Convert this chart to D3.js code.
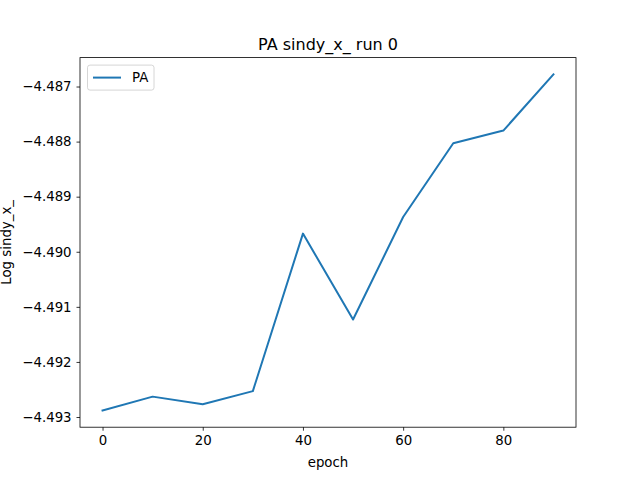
<!DOCTYPE html>
<html>
<head>
<meta charset="utf-8">
<script src="https://cdn.jsdelivr.net/npm/d3@7"></script>
<style>
  body { margin: 0; background: #fff; }
  svg { display: block; font-family: "DejaVu Sans", sans-serif; }
</style>
</head>
<body>
<svg id="chart" width="640" height="480"></svg>
<script>
// data
const epochs = [0, 10, 20, 30, 40, 50, 60, 70, 80, 90];
const paValues = [-4.49288, -4.49263, -4.49277, -4.49253, -4.48967, -4.49123, -4.48937, -4.48803, -4.48780, -4.48678];
const xTicks = [0, 20, 40, 60, 80];
const yTicks = [-4.493, -4.492, -4.491, -4.490, -4.489, -4.488, -4.487];

const svg = d3.select("#chart");
const margin = {top: 57.6, right: 64, bottom: 52.8, left: 80};
const width = 640 - margin.left - margin.right,
      height = 480 - margin.top - margin.bottom;

// matplotlib style 5% padding
const xPad = (d3.max(epochs) - d3.min(epochs)) * 0.05;
const yMin = d3.min(paValues), yMax = d3.max(paValues);
const yPad = (yMax - yMin) * 0.05;

const x = d3.scaleLinear()
    .domain([d3.min(epochs) - xPad, d3.max(epochs) + xPad])
    .range([margin.left, margin.left + width]);
const y = d3.scaleLinear()
    .domain([yMin - yPad, yMax + yPad])
    .range([margin.top + height, margin.top]);

const minus = s => s.replace("-", "\u2212");

// x axis
const xAxis = svg.append("g")
    .attr("transform", "translate(0," + (margin.top + height) + ")")
    .call(d3.axisBottom(x).tickValues(xTicks).tickSize(3.5).tickPadding(4.9).tickFormat(d3.format("d")));
xAxis.select(".domain").remove();
xAxis.selectAll("text").attr("font-size", "13.33px").attr("fill", "#000").attr("font-family", "DejaVu Sans");
xAxis.selectAll("line").attr("stroke", "#000").attr("stroke-width", 0.8);

// y axis
const yAxis = svg.append("g")
    .attr("transform", "translate(" + margin.left + ",0)")
    .call(d3.axisLeft(y).tickValues(yTicks).tickSize(3.5).tickPadding(4.9).tickFormat(d => minus(d3.format(".3f")(d))));
yAxis.select(".domain").remove();
yAxis.selectAll("text").attr("font-size", "13.33px").attr("fill", "#000").attr("font-family", "DejaVu Sans");
yAxis.selectAll("line").attr("stroke", "#000").attr("stroke-width", 0.8);

// the line
const line = d3.line()
    .x((d, i) => x(epochs[i]))
    .y(d => y(d));

svg.append("path")
    .datum(paValues)
    .attr("d", line)
    .attr("fill", "none")
    .attr("stroke", "#1f77b4")
    .attr("stroke-width", 2)
    .attr("stroke-linejoin", "round")
    .attr("stroke-linecap", "square");

// frame
svg.append("rect")
    .attr("x", margin.left).attr("y", margin.top)
    .attr("width", width).attr("height", height)
    .attr("fill", "none").attr("stroke", "#000").attr("stroke-width", 0.8);

// title and labels
svg.append("text")
    .attr("x", margin.left + width / 2).attr("y", margin.top - 8)
    .attr("text-anchor", "middle").attr("font-size", "16px")
    .text("PA sindy_x_ run 0");

svg.append("text")
    .attr("x", margin.left + width / 2).attr("y", 467)
    .attr("text-anchor", "middle").attr("font-size", "13.33px")
    .text("epoch");

svg.append("text")
    .attr("transform", "translate(1," + (margin.top + height / 2) + ") rotate(-90)")
    .attr("text-anchor", "middle").attr("dy", "0.75em").attr("font-size", "13.33px")
    .text("Log sindy_x_");

// legend
const legend = svg.append("g").attr("transform", "translate(" + (margin.left + 7.5) + "," + (margin.top + 7.5) + ")");
legend.append("rect")
    .attr("width", 66.5).attr("height", 25)
    .attr("rx", 2.5)
    .attr("fill", "#fff").attr("fill-opacity", 0.8)
    .attr("stroke", "#ccc").attr("stroke-width", 0.8);
legend.append("line")
    .attr("x1", 5.5).attr("x2", 33.5)
    .attr("y1", 12.5).attr("y2", 12.5)
    .attr("stroke", "#1f77b4").attr("stroke-width", 2);
legend.append("text")
    .attr("x", 44.5).attr("y", 17.2)
    .attr("font-size", "13.33px")
    .text("PA");
</script>
</body>
</html>
